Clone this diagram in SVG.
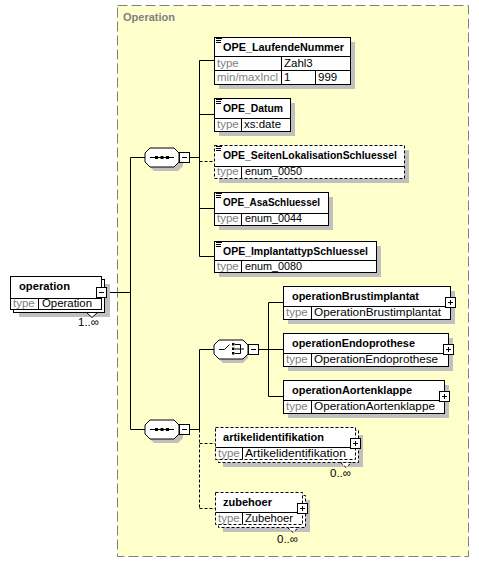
<svg xmlns="http://www.w3.org/2000/svg" width="479" height="563" viewBox="0 0 479 563">
<style>
.n{font-family:"Liberation Sans",Arial,sans-serif;font-size:11px;font-weight:bold;fill:#000}
.t{font-family:"Liberation Sans",Arial,sans-serif;font-size:11.5px;fill:#808080}
.v{font-family:"Liberation Sans",Arial,sans-serif;font-size:11.5px;fill:#000}
.box{fill:#fff;stroke:#000;stroke-width:1}
.opt{fill:#fff;stroke:#000;stroke-width:1;stroke-dasharray:3,2}
.sh{fill:#c0c0c0}
.ln{stroke:#000;stroke-width:1;fill:none}
.dl{stroke:#000;stroke-width:1;fill:none;stroke-dasharray:3,2}
.gl{stroke:#000;stroke-width:1;fill:none}
.btn{fill:#fff;stroke:#000;stroke-width:1}
</style>
<defs>
<path id="doc" d="M0,0.5h6M0,2.5h5M0,4.5h5" class="ln"/>
</defs>

<g id="container">
<rect x="117.5" y="5.5" width="351" height="551" fill="#ffffcc" stroke="#808080" stroke-dasharray="10,4"/>
<text x="123" y="21" class="n" style="fill:#808080">Operation</text>
</g>

<g id="connectors">
<path class="ln" d="M106.5,292.5H130.5M130.5,157.5V429.5M130.5,157.5H145M130.5,429.5H145"/>
<path class="ln" d="M189.5,157.5H199.5M199.5,60.5V256.5M199.5,60.5H214.5M199.5,114.5H214.5M199.5,208.5H214.5M199.5,256.5H214.5"/>
<path class="dl" d="M199.5,161.5H214.5"/>
<path class="ln" d="M189.5,429.5H199.5M199.5,349.5V429.5M199.5,349.5H214"/>
<path class="dl" d="M199.5,429.5V508.5M199.5,443.5H215.5M199.5,508.5H215.5"/>
<path class="ln" d="M258.5,349.5H268.5M268.5,302.5V396.5M268.5,302.5H283.5M268.5,349.5H283.5M268.5,396.5H283.5"/>
</g>

<g id="operation">
<rect x="19" y="284" width="91" height="33" class="sh"/>
<rect x="13.5" y="279.5" width="91" height="33" class="box"/>
<polygon points="86.5,312.5 92,317.5 97.5,312.5" class="box"/>
<rect x="10.5" y="276.5" width="91" height="33" class="box"/>
<path class="gl" d="M10.5,298.5H101.5M38.5,298.5V309.5"/>
<text x="19" y="290" class="n" textLength="51" lengthAdjust="spacingAndGlyphs">operation</text>
<text x="13" y="307" class="t">type</text>
<text x="42" y="307" class="v" textLength="50" lengthAdjust="spacingAndGlyphs">Operation</text>
<rect x="96.5" y="287.5" width="10" height="10" class="btn"/>
<path class="ln" d="M99,292.5H104"/>
<text x="78" y="326" class="v">1..∞</text>
</g>

<g id="sequence1">
<polygon points="154,152 178,152 183,157 183,166 178,171 154,171 149,166 149,157" class="sh"/>
<polygon points="150,148 174,148 179,153 179,162 174,167 150,167 145,162 145,153" class="box"/>
<path class="ln" d="M150,157.5H174"/>
<rect x="155" y="156" width="3" height="3"/>
<rect x="160.5" y="156" width="3" height="3"/>
<rect x="166" y="156" width="3" height="3"/>
<rect x="179.5" y="152.5" width="10" height="10" class="btn"/>
<path class="ln" d="M182,157.5H187"/>
</g>

<g id="OPE_LaufendeNummer">
<rect x="219" y="42" width="136" height="47" class="sh"/>
<rect x="214.5" y="37.5" width="136" height="47" class="box"/>
<use href="#doc" x="216" y="38"/>
<path class="gl" d="M214.5,56.5H350.5M214.5,70.5H350.5M281.5,56.5V84.5M315.5,70.5V84.5"/>
<text x="223" y="51" class="n" textLength="121" lengthAdjust="spacingAndGlyphs">OPE_LaufendeNummer</text>
<text x="217" y="67" class="t">type</text>
<text x="284" y="67" class="v">Zahl3</text>
<text x="217" y="81" class="t" textLength="61" lengthAdjust="spacingAndGlyphs">min/maxIncl</text>
<text x="284" y="81" class="v">1</text>
<text x="318" y="81" class="v">999</text>
</g>

<g id="OPE_Datum">
<rect x="219" y="103" width="76" height="33" class="sh"/>
<rect x="214.5" y="98.5" width="76" height="33" class="box"/>
<use href="#doc" x="216" y="99"/>
<path class="gl" d="M214.5,118.5H290.5M241.5,118.5V131.5"/>
<text x="223" y="112" class="n" textLength="60" lengthAdjust="spacingAndGlyphs">OPE_Datum</text>
<text x="217" y="128" class="t">type</text>
<text x="244" y="128" class="v">xs:date</text>
</g>

<g id="OPE_SeitenLokalisationSchluessel">
<rect x="219" y="150" width="190" height="33" class="sh"/>
<rect x="214.5" y="145.5" width="190" height="33" class="opt"/>
<use href="#doc" x="216" y="146"/>
<path class="gl" d="M214.5,166.5H404.5M241.5,166.5V178.5"/>
<text x="223" y="159" class="n" textLength="174" lengthAdjust="spacingAndGlyphs">OPE_SeitenLokalisationSchluessel</text>
<text x="217" y="175" class="t">type</text>
<text x="245" y="175" class="v" textLength="57" lengthAdjust="spacingAndGlyphs">enum_0050</text>
</g>

<g id="OPE_AsaSchluessel">
<rect x="219" y="197" width="114" height="33" class="sh"/>
<rect x="214.5" y="192.5" width="114" height="33" class="box"/>
<use href="#doc" x="216" y="193"/>
<path class="gl" d="M214.5,213.5H328.5M241.5,213.5V225.5"/>
<text x="223" y="206" class="n" textLength="97" lengthAdjust="spacingAndGlyphs">OPE_AsaSchluessel</text>
<text x="217" y="222" class="t">type</text>
<text x="245" y="222" class="v" textLength="57" lengthAdjust="spacingAndGlyphs">enum_0044</text>
</g>

<g id="OPE_ImplantattypSchluessel">
<rect x="219" y="246" width="162" height="31" class="sh"/>
<rect x="214.5" y="241.5" width="162" height="31" class="box"/>
<use href="#doc" x="216" y="242"/>
<path class="gl" d="M214.5,260.5H376.5M241.5,260.5V272.5"/>
<text x="223" y="255" class="n" textLength="145" lengthAdjust="spacingAndGlyphs">OPE_ImplantattypSchluessel</text>
<text x="217" y="270" class="t">type</text>
<text x="245" y="270" class="v" textLength="57" lengthAdjust="spacingAndGlyphs">enum_0080</text>
</g>

<g id="sequence2">
<polygon points="154,424 178,424 183,429 183,438 178,443 154,443 149,438 149,429" class="sh"/>
<polygon points="150,420 174,420 179,425 179,434 174,439 150,439 145,434 145,425" class="box"/>
<path class="ln" d="M150,429.5H174"/>
<rect x="155" y="428" width="3" height="3"/>
<rect x="160.5" y="428" width="3" height="3"/>
<rect x="166" y="428" width="3" height="3"/>
<rect x="179.5" y="424.5" width="10" height="10" class="btn"/>
<path class="ln" d="M182,429.5H187"/>
</g>

<g id="choice">
<polygon points="223,344 243,344 248,349 248,358 243,363 223,363 218,358 218,349" class="sh"/>
<polygon points="219,340 243,340 248,345 248,354 243,359 219,359 214,354 214,345" class="box"/>
<path class="ln" d="M219,349.5H224.5L229.5,344.5M235,344.5H240.5V353.5H235M235,349H244"/>
<rect x="232" y="343" width="2.5" height="2.5"/>
<rect x="232" y="347.5" width="2.5" height="2.5"/>
<rect x="232" y="352" width="2.5" height="2.5"/>
<rect x="248.5" y="344.5" width="10" height="10" class="btn"/>
<path class="ln" d="M251,349.5H256"/>
</g>

<g id="operationBrustimplantat">
<rect x="288" y="291" width="167" height="33" class="sh"/>
<rect x="283.5" y="286.5" width="167" height="33" class="box"/>
<path class="gl" d="M283.5,306.5H450.5M311.5,306.5V319.5"/>
<text x="292" y="300" class="n" textLength="127" lengthAdjust="spacingAndGlyphs">operationBrustimplantat</text>
<text x="286" y="316" class="t">type</text>
<text x="314" y="316" class="v" textLength="127" lengthAdjust="spacingAndGlyphs">OperationBrustimplantat</text>
<rect x="445.5" y="297.5" width="10" height="10" class="btn"/>
<path class="ln" d="M448,302.5H453M450.5,300V305"/>
</g>

<g id="operationEndoprothese">
<rect x="288" y="338" width="165" height="33" class="sh"/>
<rect x="283.5" y="333.5" width="165" height="33" class="box"/>
<path class="gl" d="M283.5,353.5H448.5M311.5,353.5V366.5"/>
<text x="292" y="347" class="n" textLength="123" lengthAdjust="spacingAndGlyphs">operationEndoprothese</text>
<text x="286" y="363" class="t">type</text>
<text x="314" y="363" class="v" textLength="124" lengthAdjust="spacingAndGlyphs">OperationEndoprothese</text>
<rect x="443.5" y="344.5" width="10" height="10" class="btn"/>
<path class="ln" d="M446,349.5H451M448.5,347V352"/>
</g>

<g id="operationAortenklappe">
<rect x="288" y="385" width="161" height="33" class="sh"/>
<rect x="283.5" y="380.5" width="161" height="33" class="box"/>
<path class="gl" d="M283.5,400.5H444.5M311.5,400.5V413.5"/>
<text x="292" y="394" class="n" textLength="120" lengthAdjust="spacingAndGlyphs">operationAortenklappe</text>
<text x="286" y="410" class="t">type</text>
<text x="314" y="410" class="v" textLength="121" lengthAdjust="spacingAndGlyphs">OperationAortenklappe</text>
<rect x="439.5" y="391.5" width="10" height="10" class="btn"/>
<path class="ln" d="M442,396.5H447M444.5,394V399"/>
</g>

<g id="artikelidentifikation">
<rect x="223" y="435" width="140" height="32" class="sh"/>
<rect x="218.5" y="430.5" width="140" height="32" class="opt"/>
<polygon points="340.5,462.5 346,467.5 351.5,462.5" class="opt"/>
<rect x="215.5" y="427.5" width="140" height="32" class="opt"/>
<path class="gl" d="M215.5,447.5H355.5M242.5,447.5V459.5"/>
<text x="223" y="441" class="n" textLength="101" lengthAdjust="spacingAndGlyphs">artikelidentifikation</text>
<text x="218" y="457" class="t">type</text>
<text x="245" y="457" class="v" textLength="101" lengthAdjust="spacingAndGlyphs">Artikelidentifikation</text>
<rect x="350.5" y="438.5" width="10" height="10" class="btn"/>
<path class="ln" d="M353,443.5H358M355.5,441V446"/>
<text x="330" y="477" class="v">0..∞</text>
</g>

<g id="zubehoer">
<rect x="223" y="500" width="87" height="32" class="sh"/>
<rect x="218.5" y="495.5" width="87" height="32" class="opt"/>
<polygon points="287.5,527.5 293,532.5 298.5,527.5" class="opt"/>
<rect x="215.5" y="492.5" width="87" height="32" class="opt"/>
<path class="gl" d="M215.5,512.5H302.5M242.5,512.5V524.5"/>
<text x="223" y="506" class="n" textLength="49" lengthAdjust="spacingAndGlyphs">zubehoer</text>
<text x="218" y="522" class="t">type</text>
<text x="245" y="522" class="v" textLength="48" lengthAdjust="spacingAndGlyphs">Zubehoer</text>
<rect x="297.5" y="503.5" width="10" height="10" class="btn"/>
<path class="ln" d="M300,508.5H305M302.5,506V511"/>
<text x="277" y="543" class="v">0..∞</text>
</g>
</svg>
